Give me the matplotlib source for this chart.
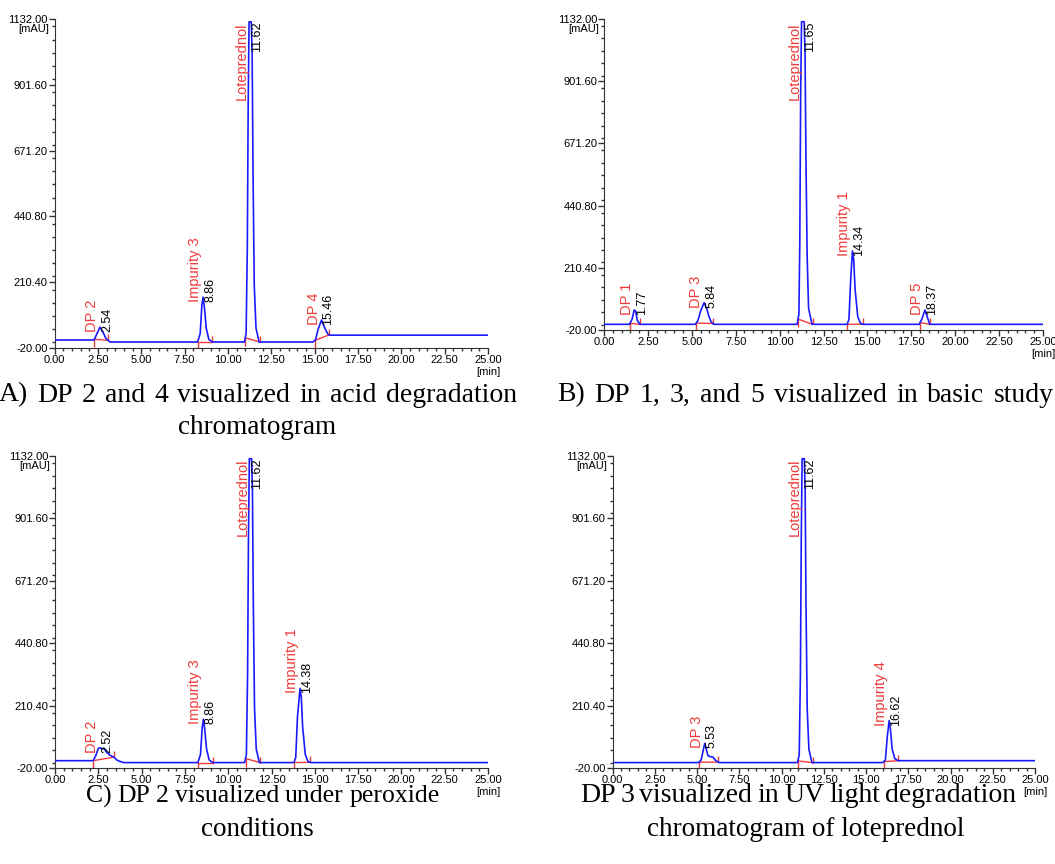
import matplotlib
matplotlib.use('Agg')
import matplotlib.pyplot as plt
import matplotlib.transforms as mtransforms
import numpy as np
from matplotlib.ticker import MultipleLocator, FixedLocator, FormatStrFormatter

# ---- trace data (time in min, signal in mAU) ----
time_a = [0, 2.28, 2.45, 2.62, 2.8, 2.95, 3.2, 8.25, 8.4, 8.5, 8.57, 8.65, 8.75, 8.9, 9.1,
          10.95, 11.05, 11.12, 11.17, 11.22, 11.35, 11.4, 11.45, 11.52, 11.62, 11.8,
          14.9, 15.05, 15.2, 15.4, 15.55, 15.75, 15.85, 25]
sig_a = [8, 8, 30, 53, 35, 15, 1, 1, 30, 130, 158, 120, 50, 10, 1,
         1, 30, 330, 830, 1122, 1122, 1000, 590, 200, 50, 1,
         1, 8, 45, 78, 55, 30, 25, 25]

time_b = [0, 1.45, 1.6, 1.72, 1.8, 1.9, 2.05, 5.2, 5.35, 5.5, 5.7, 5.85, 5.95, 6.1, 6.25,
          11.0, 11.1, 11.15, 11.2, 11.25, 11.4, 11.45, 11.5, 11.57, 11.65, 11.85,
          13.85, 13.95, 14.05, 14.15, 14.22, 14.3, 14.45, 14.6, 14.75,
          17.95, 18.1, 18.28, 18.4, 18.55, 25]
sig_b = [1, 1, 20, 54, 50, 15, 1, 1, 15, 50, 81, 60, 35, 10, 1,
         1, 40, 300, 860, 1122, 1122, 1000, 620, 250, 60, 1,
         1, 20, 170, 273, 240, 130, 30, 5, 1,
         1, 20, 54, 30, 1, 1]

time_c = [0, 2.2, 2.35, 2.5, 2.6, 2.72, 2.83, 2.95, 3.15, 3.4, 3.6, 3.95,
          8.25, 8.4, 8.5, 8.57, 8.65, 8.75, 8.9, 9.1,
          10.95, 11.05, 11.12, 11.17, 11.22, 11.35, 11.4, 11.45, 11.52, 11.62, 11.8,
          13.8, 13.9, 14.0, 14.15, 14.22, 14.3, 14.45, 14.6, 14.75, 25]
sig_c = [7, 7, 25, 52, 55, 50, 53, 40, 28, 20, 8, 0,
         0, 30, 130, 160, 120, 50, 10, 0,
         0, 30, 330, 830, 1122, 1122, 1000, 590, 200, 50, 0,
         0, 20, 170, 274, 240, 130, 30, 5, 0, 0]

time_d = [0, 5.1, 5.25, 5.4, 5.46, 5.55, 5.65, 5.8, 5.95, 6.1, 6.3,
          10.95, 11.05, 11.12, 11.17, 11.22, 11.35, 11.4, 11.45, 11.52, 11.62, 11.8,
          16.0, 16.15, 16.25, 16.37, 16.45, 16.55, 16.7, 16.9, 25]
sig_d = [0, 0, 10, 55, 71, 50, 25, 22, 20, 8, 0,
         0, 30, 330, 830, 1122, 1122, 1000, 590, 200, 50, 0,
         0, 10, 90, 155, 120, 50, 15, 7, 7]

# ---- peak annotations: apex time, name, retention time text, integration window ----
peaks_a = [(2.62, 'DP 2', '2.54', 2.3, 3.1), (8.57, 'Impurity 3', '8.86', 8.25, 9.1),
           (11.28, 'Loteprednol', '11.62', 11.0, 11.85), (15.4, 'DP 4', '15.46', 15.02, 15.83)]
peaks_b = [(1.75, 'DP 1', '1.77', 1.48, 2.05), (5.7, 'DP 3', '5.84', 5.25, 6.2),
           (11.33, 'Loteprednol', '11.65', 11.05, 11.88), (14.15, 'Impurity 1', '14.34', 13.85, 14.73),
           (18.28, 'DP 5', '18.37', 18.0, 18.57)]
peaks_c = [(2.6, 'DP 2', '2.52', 2.2, 3.4), (8.57, 'Impurity 3', '8.86', 8.25, 9.1),
           (11.28, 'Loteprednol', '11.62', 11.0, 11.85), (14.15, 'Impurity 1', '14.38', 13.8, 14.72)]
peaks_d = [(5.46, 'DP 3', '5.53', 5.12, 6.25), (11.28, 'Loteprednol', '11.62', 10.97, 11.84),
           (16.37, 'Impurity 4', '16.62', 16.05, 16.9)]

captions = [['A) DP 2 and 4 visualized in acid degradation', 'chromatogram'],
            ['B) DP 1, 3, and 5 visualized in basic study'],
            ['C) DP 2 visualized under peroxide', 'conditions'],
            ['DP 3 visualized in UV light degradation', 'chromatogram of loteprednol']]

y_ticks = [-20.00, 210.40, 440.80, 671.20, 901.60, 1132.00]

BLUE = '#1a1aff'
RED = '#f03a3a'
AXC = '#333333'
TICKFONT = ['Liberation Sans', 'DejaVu Sans']
SERIF = ['Liberation Serif', 'DejaVu Serif']

W, H = 1055, 864
fig = plt.figure(figsize=(W / 100, H / 100), dpi=100)


def px_axes(left, right, top, bottom):
    return fig.add_axes([left / W, 1 - bottom / H, (right - left) / W, (bottom - top) / H])


def draw_panel(ax, t, s, peaks):
    ax.plot(t, s, color=BLUE, lw=1.2, zorder=3)
    for apex, name, rt, t0, t1 in peaks:
        y0 = np.interp(t0, t, s)
        y1 = np.interp(t1, t, s)
        ax.plot([t0, t1], [y0, y1], color=RED, lw=1.0, zorder=2)
        ax.plot([t0], [y0], marker=3, ms=6, mew=1.0, color=RED, zorder=2)
        ax.plot([t1], [y1], marker=2, ms=4, mew=1.0, color=RED, zorder=2)
        h = np.interp(apex, t, s)
        if h > 900:
            xy, coords, va, dy = (apex, 1.0), ('data', 'axes fraction'), 'top', -3
        else:
            xy, coords, va, dy = (apex, h), 'data', 'bottom', -5
        ax.annotate(name, xy=xy, xycoords=coords, xytext=(-8, dy), textcoords='offset pixels',
                    rotation=90, ha='center', va=va, color=RED, fontsize=10.5, family=TICKFONT)
        ax.annotate(rt, xy=xy, xycoords=coords, xytext=(7, dy), textcoords='offset pixels',
                    rotation=90, ha='center', va=va, color='black', fontsize=9, family=TICKFONT)

    ax.set_xlim(0, 25)
    ax.set_ylim(-20, 1132)
    for side in ['top', 'right']:
        ax.spines[side].set_visible(False)
    for side in ['left', 'bottom']:
        ax.spines[side].set_color(AXC)
    ax.xaxis.set_major_locator(MultipleLocator(2.5))
    ax.xaxis.set_minor_locator(MultipleLocator(0.5))
    ax.yaxis.set_major_locator(FixedLocator(y_ticks))
    ax.yaxis.set_minor_locator(MultipleLocator(230.4 / 5))
    ax.xaxis.set_major_formatter(FormatStrFormatter('%.2f'))
    ax.yaxis.set_major_formatter(FormatStrFormatter('%.2f'))
    ax.tick_params(which='major', length=4, width=1, color=AXC, pad=1, labelsize=8)
    ax.tick_params(which='minor', length=2.5, width=1, color=AXC)
    for lab in ax.get_xticklabels() + ax.get_yticklabels():
        lab.set_family(TICKFONT)
    ax.text(-0.012, 0.985, '[mAU]', transform=ax.transAxes, ha='right', va='top',
            fontsize=8, family=TICKFONT)
    below = mtransforms.offset_copy(ax.transAxes, fig=fig, x=0, y=-19, units='dots')
    ax.text(1.0, 0.0, '[min]', transform=below, ha='center', va='top',
            fontsize=8, family=TICKFONT)


boxes = [(54.5, 488, 19, 348), (604, 1043, 19, 330), (55, 488, 456, 768), (612.5, 1035, 456, 768)]
traces = [(time_a, sig_a, peaks_a), (time_b, sig_b, peaks_b),
          (time_c, sig_c, peaks_c), (time_d, sig_d, peaks_d)]
for box, (t, s, pk) in zip(boxes, traces):
    ax = px_axes(*box)
    draw_panel(ax, t, s, pk)

# caption placement: first line spread between pixel edges, second line centred
line1_span = [(-1, 517), (557, 1054), (86, 440), (580, 1016)]
line1_size = [20, 20, 18.5, 20]
cap_center = [257, 806, 257, 806]
cap_y = [(395, 428), (395, 428), (796, 829), (796, 829)]
renderer = fig.canvas.get_renderer()
for k, lines in enumerate(captions):
    x0, x1 = line1_span[k]
    y1 = 1 - cap_y[k][0] / H
    words = lines[0].split(' ')
    objs = [fig.text(0, y1, w, ha='left', va='center', fontsize=line1_size[k], family=SERIF)
            for w in words]
    widths = [o.get_window_extent(renderer).width for o in objs]
    gap = (x1 - x0 - sum(widths)) / (len(words) - 1)
    x = x0
    for o, wd in zip(objs, widths):
        o.set_x(x / W)
        x += wd + gap
    if len(lines) > 1:
        fig.text(cap_center[k] / W, 1 - cap_y[k][1] / H, lines[1], ha='center', va='center',
                 fontsize=19.5, family=SERIF)

fig.savefig('out.png', dpi=100)
